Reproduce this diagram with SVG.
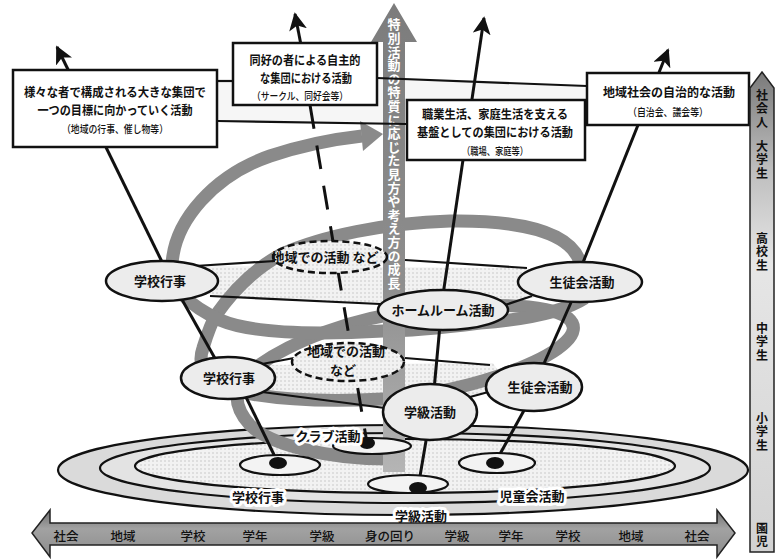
<svg xmlns="http://www.w3.org/2000/svg" width="776" height="559" viewBox="0 0 776 559">
<defs>
<style>
.box{fill:#fff;stroke:#111;stroke-width:2.5}
.bt{font-family:"Noto Sans CJK JP","Noto Sans",sans-serif;font-size:12.4px;font-weight:bold;fill:#111;text-anchor:middle}
.bs{font-size:10.5px;font-weight:500}
.el{fill:#ececec;stroke:#111;stroke-width:2.5}
.del{fill:url(#dots);stroke:#111;stroke-width:2.5;stroke-dasharray:7 4}
.lt{font-family:"Noto Sans CJK JP","Noto Sans",sans-serif;font-size:13px;font-weight:bold;fill:#111;text-anchor:middle}
.ln{stroke:#111;stroke-width:2.2;fill:none}
.cn{stroke:#111;stroke-width:3;fill:none}
.band{stroke:#8a8a8a;stroke-width:13;fill:none}
.halo{paint-order:stroke;stroke:#fff;stroke-width:6;stroke-linejoin:round}
.ax{font-family:"Noto Sans CJK JP","Noto Sans",sans-serif;font-size:12.5px;font-weight:500;fill:#111;text-anchor:middle}
.vt{font-family:"Noto Sans CJK JP","Noto Sans",sans-serif;font-size:12px;font-weight:bold;fill:#111;writing-mode:vertical-rl;letter-spacing:1.5px}
.dot{fill:#111}
</style>
<pattern id="dots" width="4" height="4" patternUnits="userSpaceOnUse"><rect width="4" height="4" fill="#f2f2f2"/><rect width="2" height="2" fill="#dedede"/></pattern>
<linearGradient id="colg" x1="0" y1="0" x2="0" y2="1"><stop offset="0" stop-color="#7c7c7c"/><stop offset="0.6" stop-color="#8e8e8e"/><stop offset="1" stop-color="#b5b5b5"/></linearGradient>
<linearGradient id="rg" x1="0" y1="0" x2="0" y2="1"><stop offset="0" stop-color="#7a7a7a"/><stop offset="0.2" stop-color="#bdbdbd"/><stop offset="0.4" stop-color="#e6e6e6"/><stop offset="1" stop-color="#d2d2d2"/></linearGradient>
<linearGradient id="bg" x1="0" y1="0" x2="0" y2="1"><stop offset="0" stop-color="#6f6f6f"/><stop offset="0.4" stop-color="#a2a2a2"/><stop offset="1" stop-color="#8c8c8c"/></linearGradient>
<marker id="ah" viewBox="0 0 10 10" refX="9" refY="5" markerWidth="6" markerHeight="6" orient="auto"><path d="M0,0 L10,5 L0,10 L2.5,5 Z" fill="#111"/></marker>
</defs>
<rect width="776" height="559" fill="#fff"/>

<g id="bottom-rings">
<ellipse cx="403" cy="470" rx="345" ry="45" fill="#dadada" stroke="#111" stroke-width="2.2"/>
<ellipse cx="405" cy="468" rx="305" ry="35" fill="#e3e3e3" stroke="#111" stroke-width="2.2"/>
<ellipse cx="405" cy="466" rx="270" ry="27" fill="url(#dots)" stroke="#111" stroke-width="2.2"/>
</g>

<g id="ring-fills">
<path d="M217,81 L377,78 L587,86 L587,114 L407,124 L217,121 Z" fill="#f6f6f6"/>
<path d="M195,266 L527,268 L560,290 L505,305 L380,304 L225,298 L195,290 Z" fill="url(#dots)"/>
<path d="M240,365 L493,363 L510,388 L470,397 L384,409 L268,394 L240,385 Z" fill="url(#dots)"/>
</g>

<g id="spiral">
<path class="band" d="M395,459 C330,460 270,445 250,425 C232,405 232,385 255,368 C290,342 350,318 420,310 C480,304 545,302 568,318 C585,332 560,352 520,368 C480,384 430,396 383,399 C330,402 280,400 240,392 C208,386 196,368 203,348 C207,335 210,325 216,315 C232,292 252,270 282,254 C322,236 385,223 450,221 C520,220 570,232 580,262"/>
<path class="band" d="M585,298 C560,314 520,320 480,323 C440,328 400,331 383,331 C330,334 255,335 220,320 C190,306 172,290 172,265 C174,220 215,175 270,156 C303,145 335,139 362,136"/>
<polygon points="383,134 360,121 363,151" fill="#8a8a8a"/>
</g>

<g id="axis">
<path d="M394,3 L417,42 L405,42 L405,472 L383,472 L383,42 L371,42 Z" fill="url(#colg)"/>
<text x="394" y="18" style="writing-mode:vertical-rl" font-family="Noto Sans CJK JP, Noto Sans, sans-serif" font-size="13" font-weight="bold" fill="#fff" letter-spacing="0.6">特別活動の特質に応じた見方や考え方の成長</text>
</g>

<g id="connectors">
<line class="ln" x1="217" y1="81" x2="233" y2="81"/>
<line class="ln" x1="377" y1="78" x2="587" y2="86"/>
<line class="ln" x1="217" y1="121" x2="407" y2="124"/>
<line class="ln" x1="585" y1="114" x2="587" y2="114"/>
<line class="ln" x1="195" y1="266" x2="275" y2="261"/>
<line class="ln" x1="405" y1="260" x2="527" y2="268"/>
<line class="ln" x1="210" y1="296" x2="380" y2="304"/>
<line class="ln" x1="505" y1="305" x2="532" y2="296"/>
<line class="ln" x1="262" y1="364" x2="294" y2="358"/>
<line class="ln" x1="405" y1="358" x2="490" y2="365"/>
<line class="ln" x1="262" y1="392" x2="385" y2="408"/>
<line class="ln" x1="470" y1="397" x2="492" y2="391"/>
<line class="cn" x1="165" y1="268" x2="57" y2="47" marker-end="url(#ah)"/>
<line class="cn" x1="301" y1="45" x2="295" y2="14" marker-end="url(#ah)"/>
<line class="cn" x1="310" y1="105" x2="367" y2="443" stroke-dasharray="24 17"/>
<line class="cn" x1="443" y1="295" x2="484" y2="18" marker-end="url(#ah)"/>
<line class="cn" x1="580" y1="270" x2="668" y2="50" marker-end="url(#ah)"/>
<line class="cn" x1="180" y1="296" x2="217" y2="362"/>
<line class="cn" x1="245" y1="395" x2="278" y2="463"/>
<line class="cn" x1="440" y1="325" x2="434" y2="390"/>
<line class="cn" x1="427" y1="435" x2="418" y2="488"/>
<line class="cn" x1="573" y1="298" x2="542" y2="368"/>
<line class="cn" x1="527" y1="405" x2="495" y2="463"/>
</g>

<g id="small-ellipses">
<ellipse cx="280" cy="465" rx="40" ry="10" fill="#f3f3f3" stroke="#111" stroke-width="2.2"/>
<ellipse cx="408" cy="484" rx="40" ry="9" fill="#f3f3f3" stroke="#111" stroke-width="2.2"/>
<ellipse cx="497" cy="463" rx="38" ry="10" fill="#f3f3f3" stroke="#111" stroke-width="2.2"/>
<ellipse cx="372" cy="446" rx="39" ry="8" fill="#f3f3f3" stroke="#111" stroke-width="2.2"/>
<ellipse class="dot" cx="278" cy="463" rx="9" ry="6"/>
<ellipse class="dot" cx="418" cy="488" rx="9" ry="6"/>
<ellipse class="dot" cx="495" cy="463" rx="9" ry="6"/>
<ellipse class="dot" cx="367" cy="443" rx="8" ry="6"/>
</g>

<g id="n-gakko-upper"><ellipse class="el" cx="162" cy="281" rx="56" ry="20"/><text class="lt" x="160" y="286">学校行事</text></g>
<g id="n-seito-upper"><ellipse class="el" cx="580" cy="282" rx="62" ry="20"/><text class="lt" x="582" y="287">生徒会活動</text></g>
<g id="n-homeroom"><ellipse class="el" cx="443" cy="310" rx="65" ry="20"/><text class="lt" x="443" y="315">ホームルーム活動</text></g>
<g id="n-chiiki-upper"><ellipse class="del" cx="330" cy="257" rx="57" ry="16"/><text class="lt" x="325" y="262" font-size="11.5">地域での活動  など</text></g>
<g id="n-gakko-lower"><ellipse class="el" cx="228" cy="378" rx="47" ry="21"/><text class="lt" x="229" y="383">学校行事</text></g>
<g id="n-chiiki-lower"><ellipse class="del" cx="348" cy="362" rx="56" ry="19"/><text class="lt" x="346" y="356" font-size="11">地域での活動</text><text class="lt" x="343" y="375" font-size="11">など</text></g>
<g id="n-seito-lower"><ellipse class="el" cx="534" cy="387" rx="48" ry="24"/><text class="lt" x="540" y="392">生徒会活動</text></g>
<g id="n-gakkyu-mid"><ellipse class="el" cx="430" cy="412" rx="47" ry="28"/><text class="lt" x="430" y="417">学級活動</text></g>

<g id="bottom-labels">
<text class="lt halo" x="328" y="441">クラブ活動</text>
<text class="lt halo" x="258" y="502" font-size="13.5">学校行事</text>
<text class="lt halo" x="532" y="501" font-size="14">児童会活動</text>
<text class="lt halo" x="421" y="521" font-size="14">学級活動</text>
</g>

<g id="box1"><rect class="box" x="13" y="70" width="204" height="77"/>
<text class="bt" x="115" y="97" textLength="182" lengthAdjust="spacingAndGlyphs">様々な者で構成される大きな集団で</text>
<text class="bt" x="115" y="115" textLength="155" lengthAdjust="spacingAndGlyphs">一つの目標に向かっていく活動</text>
<text class="bt bs" x="115" y="133" textLength="106" lengthAdjust="spacingAndGlyphs">（地域の行事、催し物等）</text></g>
<g id="box2"><rect class="box" x="233" y="43" width="144" height="62"/>
<text class="bt" x="305" y="65" textLength="111" lengthAdjust="spacingAndGlyphs">同好の者による自主的</text>
<text class="bt" x="306" y="83" textLength="92" lengthAdjust="spacingAndGlyphs">な集団における活動</text>
<text class="bt bs" x="300" y="100" textLength="96" lengthAdjust="spacingAndGlyphs">（サークル、同好会等）</text></g>
<g id="box3"><rect class="box" x="407" y="100" width="178" height="60"/>
<text class="bt" x="495" y="119" textLength="146" lengthAdjust="spacingAndGlyphs">職業生活、家庭生活を支える</text>
<text class="bt" x="495" y="137" textLength="156" lengthAdjust="spacingAndGlyphs">基盤としての集団における活動</text>
<text class="bt bs" x="495" y="155" textLength="66" lengthAdjust="spacingAndGlyphs">（職場、家庭等）</text></g>
<g id="box4"><rect class="box" x="587" y="73" width="162" height="52"/>
<text class="bt" x="669" y="97" textLength="132" lengthAdjust="spacingAndGlyphs">地域社会の自治的な活動</text>
<text class="bt bs" x="668" y="116" textLength="80" lengthAdjust="spacingAndGlyphs">（自治会、議会等）</text></g>

<g id="age-axis">
<path d="M762,72 L774,88 L774,552 L750,552 L750,88 Z" fill="url(#rg)" stroke="#222" stroke-width="1.5"/>
<text class="vt" x="762" y="89">社会人</text>
<text class="vt" x="762" y="140">大学生</text>
<text class="vt" x="762" y="232">高校生</text>
<text class="vt" x="762" y="322">中学生</text>
<text class="vt" x="762" y="412">小学生</text>
<text class="vt" x="762" y="522">園児</text>
</g>

<g id="range-axis">
<path d="M32,533 L50,510 L50,523 L717,523 L717,510 L735,533 L717,557 L717,545 L50,545 L50,557 Z" fill="url(#bg)" stroke="#222" stroke-width="1.5"/>
<text class="ax" x="66" y="541">社会</text>
<text class="ax" x="123" y="541">地域</text>
<text class="ax" x="193" y="541">学校</text>
<text class="ax" x="255" y="541">学年</text>
<text class="ax" x="322" y="541">学級</text>
<text class="ax" x="390" y="541">身の回り</text>
<text class="ax" x="457" y="541">学級</text>
<text class="ax" x="511" y="541">学年</text>
<text class="ax" x="568" y="541">学校</text>
<text class="ax" x="631" y="541">地域</text>
<text class="ax" x="697" y="541">社会</text>
</g>
</svg>
